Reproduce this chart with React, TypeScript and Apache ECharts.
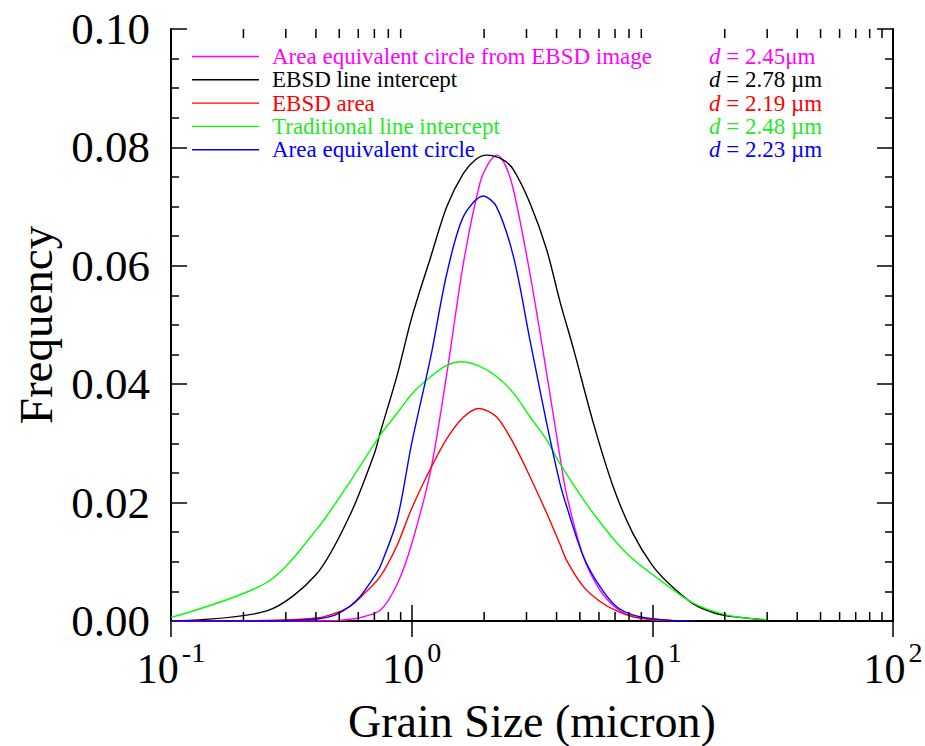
import React, { useEffect, useRef } from 'react';
import * as echarts from 'echarts';

const FONT = "'Liberation Serif', 'Times New Roman', serif";

const seriesNames = [
  'Area equivalent circle from EBSD image',
  'EBSD line intercept',
  'EBSD area',
  'Traditional line intercept',
  'Area equivalent circle',
];
const lineColors = ['#ff00ff', '#000000', '#ff0000', '#00ff00', '#0000ff'];
const textColors = ['#ff00ff', '#000000', '#ff0000', '#1fea1f', '#0000ff'];
const meanLabels = ['= 2.45\u03bcm', '= 2.78 \u00b5m', '= 2.19 \u00b5m', '= 2.48 \u00b5m', '= 2.23 \u00b5m'];

const yTicks = [0, 0.02, 0.04, 0.06, 0.08, 0.1];
const xMinorTicks = [0.2, 0.3, 0.4, 0.5, 0.6, 0.7, 0.8, 0.9, 2, 3, 4, 5, 6, 7, 8, 9, 20, 30, 40, 50, 60, 70, 80, 90];

// Area equivalent circle from EBSD image (magenta)
const magentaX = [0.1, 0.4, 0.5, 0.6, 0.74, 0.87, 1.0, 1.2, 1.4, 1.64, 1.92, 2.1, 2.26, 2.45, 2.65, 3.1, 3.64, 4.13, 4.41, 5.17, 6.06, 7.11, 8.33, 10, 12];
const magentaY = [0, 0, 0.0001, 0.0005, 0.0018, 0.0062, 0.0130, 0.0255, 0.0418, 0.0604, 0.0739, 0.0775, 0.0787, 0.0770, 0.0728, 0.0587, 0.0418, 0.0278, 0.0212, 0.0109, 0.0052, 0.0021, 0.0007, 0.0002, 0.0001];

// EBSD line intercept (black)
const blackX = [0.1, 0.25, 0.4, 0.55, 0.7, 0.74, 0.87, 1.0, 1.2, 1.4, 1.64, 1.85, 2.05, 2.4, 2.65, 3.1, 3.64, 4.13, 4.7, 5.7, 6.9, 8.3, 10, 11.8, 14.8, 18, 22, 30];
const blackY = [0, 0.0017, 0.0078, 0.0176, 0.0283, 0.0318, 0.0415, 0.0512, 0.0615, 0.0700, 0.0756, 0.0780, 0.0787, 0.0779, 0.0762, 0.0706, 0.0627, 0.0540, 0.0460, 0.0333, 0.0225, 0.0148, 0.0094, 0.0062, 0.0029, 0.0014, 0.0007, 0.0002];

// EBSD area (red)
const redX = [0.1, 0.25, 0.4, 0.48, 0.55, 0.62, 0.74, 0.87, 1.0, 1.2, 1.4, 1.64, 1.9, 2.25, 2.65, 3.1, 3.64, 4.13, 4.41, 5.17, 6.06, 7.11, 8.33, 10, 12.4];
const redY = [0, 0.0001, 0.0005, 0.0013, 0.0024, 0.0042, 0.0075, 0.0128, 0.0190, 0.0258, 0.0308, 0.0344, 0.0359, 0.0345, 0.0300, 0.0244, 0.0182, 0.0130, 0.0102, 0.0058, 0.0033, 0.0017, 0.0007, 0.0003, 0];

// Traditional line intercept (green)
const greenX = [0.1, 0.25, 0.4, 0.56, 0.74, 0.87, 1.0, 1.2, 1.4, 1.6, 1.9, 2.25, 2.65, 3.1, 3.64, 4.13, 5.68, 7.83, 10.76, 14.8, 20.4, 30];
const greenY = [0.0006, 0.0065, 0.0153, 0.0238, 0.0314, 0.0351, 0.0383, 0.0413, 0.0432, 0.0438, 0.0431, 0.0413, 0.0385, 0.0345, 0.0306, 0.0266, 0.0182, 0.0114, 0.0069, 0.0030, 0.0010, 0.0002];

// Area equivalent circle (blue)
const blueX = [0.1, 0.25, 0.4, 0.48, 0.55, 0.61, 0.7, 0.74, 0.87, 1.0, 1.2, 1.4, 1.64, 1.985, 2.25, 2.65, 3.1, 3.64, 4.13, 4.41, 5.17, 6.06, 7.11, 8.33, 10, 12, 15];
const blueY = [0, 0, 0.0003, 0.0010, 0.0024, 0.0041, 0.0075, 0.0092, 0.0171, 0.0300, 0.0446, 0.0587, 0.0683, 0.0718, 0.0700, 0.0615, 0.0475, 0.0334, 0.0233, 0.0193, 0.0109, 0.0058, 0.0024, 0.0010, 0.0004, 0.0001, 0];

const seriesX = [magentaX, blackX, redX, greenX, blueX];
const seriesY = [magentaY, blackY, redY, greenY, blueY];

function zip(xs: number[], ys: number[]) {
  return xs.map((x, i) => [x, ys[i]]);
}

function richFor(color: string) {
  const base = { fontFamily: FONT, fontSize: 23, lineHeight: 23, color };
  return {
    n: { ...base, width: 437 },
    i: { ...base, fontStyle: 'italic' },
    v: { ...base },
  };
}

export default function App() {
  const ref = useRef<HTMLDivElement>(null);

  useEffect(() => {
    if (!ref.current) return;
    const chart = echarts.init(ref.current, undefined, { renderer: 'svg' });

    const axisLine = { show: true, lineStyle: { color: '#000', width: 2 } };

    const lineSeries = seriesNames.map((name, k) => ({
      name,
      type: 'line',
      data: zip(seriesX[k], seriesY[k]),
      symbol: 'none',
      showSymbol: false,
      smooth: 0.3,
      lineStyle: { color: lineColors[k], width: 1.4 },
      itemStyle: { color: lineColors[k] },
      z: 3,
    }));

    const option: any = {
      animation: false,
      backgroundColor: '#fff',
      grid: { left: 171, right: 32, top: 29, bottom: 125, containLabel: false, outerBoundsMode: 'none' },
      legend: {
        orient: 'vertical',
        left: 192,
        top: 45,
        icon: 'rect',
        itemWidth: 67,
        itemHeight: 1.4,
        itemGap: 0.3,
        padding: 0,
        selectedMode: false,
        data: seriesNames.map((name, k) => ({
          name,
          icon: 'rect',
          itemStyle: { color: lineColors[k] },
          textStyle: { color: textColors[k], rich: richFor(textColors[k]) },
        })),
        formatter: (name: string) => {
          const k = seriesNames.indexOf(name);
          return `{n|${name}}{i|d}{v| ${meanLabels[k]}}`;
        },
        textStyle: { fontFamily: FONT, fontSize: 23, padding: [0, 0, 0, 8] },
      },
      xAxis: [
        {
          type: 'log',
          logBase: 10,
          min: 0.1,
          max: 100,
          position: 'bottom',
          name: 'Grain Size (micron)',
          nameLocation: 'middle',
          nameGap: 88,
          nameMoveOverlap: false,
          nameTextStyle: { fontFamily: FONT, fontSize: 46, lineHeight: 24, color: '#000' },
          axisLine,
          axisTick: { show: true, inside: true, length: 16, lineStyle: { color: '#000', width: 1.5 } },
          splitLine: { show: false },
          axisLabel: {
            margin: 17,
            color: '#000',
            formatter: (v: number) => `{b|10}{s|${Math.round(Math.log10(v))}}`,
            rich: {
              b: { fontFamily: FONT, fontSize: 42, color: '#000', lineHeight: 52, verticalAlign: 'bottom' },
              s: { fontFamily: FONT, fontSize: 28, color: '#000', verticalAlign: 'top', lineHeight: 28, padding: [0, 0, 0, 3] },
            },
          },
        },
        {
          type: 'log',
          logBase: 10,
          min: 0.1,
          max: 100,
          position: 'top',
          axisLine,
          axisTick: { show: true, inside: true, length: 16, lineStyle: { color: '#000', width: 1.5 } },
          splitLine: { show: false },
          axisLabel: { show: false },
        },
      ],
      yAxis: [
        {
          type: 'value',
          min: yTicks[0],
          max: yTicks[yTicks.length - 1],
          interval: 0.02,
          position: 'left',
          name: 'Frequency',
          nameLocation: 'middle',
          nameGap: 112,
          nameMoveOverlap: false,
          nameTextStyle: { fontFamily: FONT, fontSize: 47, color: '#000' },
          axisLine,
          axisTick: { show: true, inside: true, length: 16, lineStyle: { color: '#000', width: 1.5 } },
          minorTick: { show: true, splitNumber: 4, length: 8, lineStyle: { color: '#000', width: 1.5 } },
          splitLine: { show: false },
          minorSplitLine: { show: false },
          axisLabel: {
            margin: 21,
            color: '#000',
            fontFamily: FONT,
            fontSize: 45,
            formatter: (v: number) => v.toFixed(2),
          },
        },
        {
          type: 'value',
          min: yTicks[0],
          max: yTicks[yTicks.length - 1],
          interval: 0.02,
          position: 'right',
          axisLine,
          axisTick: { show: true, inside: true, length: 16, lineStyle: { color: '#000', width: 1.5 } },
          minorTick: { show: true, splitNumber: 4, length: 8, lineStyle: { color: '#000', width: 1.5 } },
          splitLine: { show: false },
          axisLabel: { show: false },
        },
      ],
      series: [
        ...lineSeries,
        {
          type: 'custom',
          silent: true,
          clip: false,
          z: 4,
          data: xMinorTicks.map((v) => [v, 0]),
          encode: { x: 0, y: 1 },
          renderItem: (params: any, api: any) => {
            const v = api.value(0);
            const b = api.coord([v, yTicks[0]]);
            const t = api.coord([v, yTicks[yTicks.length - 1]]);
            const style = { stroke: '#000', lineWidth: 1.5 };
            return {
              type: 'group',
              children: [
                { type: 'line', shape: { x1: b[0], y1: b[1], x2: b[0], y2: b[1] - 9 }, style },
                { type: 'line', shape: { x1: t[0], y1: t[1], x2: t[0], y2: t[1] + 9 }, style },
              ],
            };
          },
        },
      ],
    };

    chart.setOption(option);
    return () => chart.dispose();
  }, []);

  return (
    <div
      ref={ref}
      style={{ position: 'fixed', left: 0, top: 0, width: 925, height: 746, background: '#fff' }}
    />
  );
}
